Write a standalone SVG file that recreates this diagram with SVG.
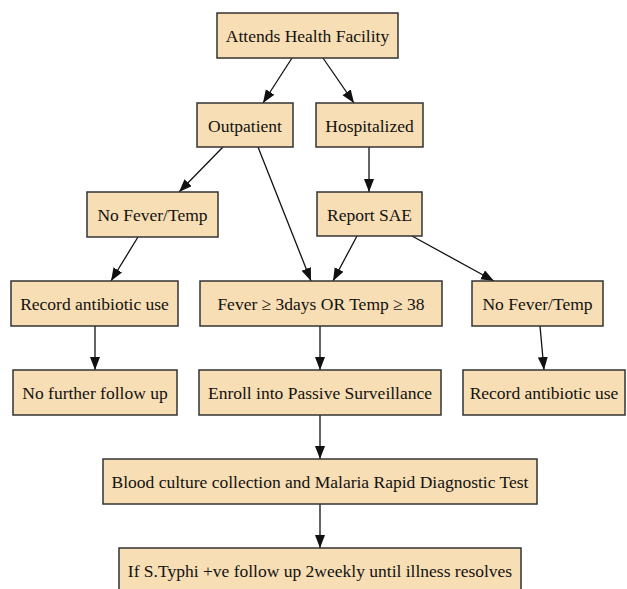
<svg xmlns="http://www.w3.org/2000/svg" width="627" height="589" viewBox="0 0 627 589">
<style>
.box{fill:#f8deb4;stroke:#333;stroke-width:1.5}
.t{font-family:"Liberation Serif","Times New Roman",serif;font-size:17.5px;fill:#111;text-anchor:middle}
.e{stroke:#111;stroke-width:1.3;fill:none}
</style>
<defs>
<marker id="ah" markerUnits="userSpaceOnUse" markerWidth="14" markerHeight="11" refX="13" refY="5" orient="auto">
<path d="M0,0 L13,5 L0,10 z" fill="#111"/>
</marker>
</defs>
<rect width="627" height="589" fill="#fff"/>
<g id="connectors">
<line class="e" x1="292" y1="58" x2="263" y2="103" marker-end="url(#ah)"/>
<line class="e" x1="323" y1="58" x2="354" y2="103" marker-end="url(#ah)"/>
<line class="e" x1="223" y1="147" x2="179" y2="192" marker-end="url(#ah)"/>
<line class="e" x1="258" y1="147" x2="311" y2="281" marker-end="url(#ah)"/>
<line class="e" x1="369" y1="147" x2="369" y2="192" marker-end="url(#ah)"/>
<line class="e" x1="138" y1="237" x2="111" y2="281" marker-end="url(#ah)"/>
<line class="e" x1="357" y1="236" x2="333" y2="281" marker-end="url(#ah)"/>
<line class="e" x1="412" y1="236" x2="494" y2="281" marker-end="url(#ah)"/>
<line class="e" x1="95" y1="326" x2="95" y2="370" marker-end="url(#ah)"/>
<line class="e" x1="320" y1="326" x2="320" y2="370" marker-end="url(#ah)"/>
<line class="e" x1="540" y1="326" x2="544" y2="370" marker-end="url(#ah)"/>
<line class="e" x1="320" y1="415" x2="320" y2="459" marker-end="url(#ah)"/>
<line class="e" x1="320" y1="504" x2="320" y2="548" marker-end="url(#ah)"/>
</g>
<g id="attends"><rect class="box" x="217" y="13" width="181" height="45"/><text class="t" x="307.5" y="41.5">Attends Health Facility</text></g>
<g id="outpatient"><rect class="box" x="197" y="103" width="96" height="44"/><text class="t" x="245" y="131.5">Outpatient</text></g>
<g id="hospitalized"><rect class="box" x="316" y="103" width="107" height="44"/><text class="t" x="369.5" y="131.5">Hospitalized</text></g>
<g id="nofever1"><rect class="box" x="87" y="192" width="131" height="45"/><text class="t" x="152.5" y="220.5">No Fever/Temp</text></g>
<g id="reportsae"><rect class="box" x="317" y="192" width="105" height="44"/><text class="t" x="369.5" y="220.5">Report SAE</text></g>
<g id="record1"><rect class="box" x="11" y="281" width="167" height="45"/><text class="t" x="94.5" y="309.5">Record antibiotic use</text></g>
<g id="fever"><rect class="box" x="200" y="281" width="242" height="45"/><text class="t" x="321" y="309.5">Fever ≥ 3days OR Temp ≥ 38</text></g>
<g id="nofever2"><rect class="box" x="472" y="281" width="131" height="45"/><text class="t" x="537.5" y="309.5">No Fever/Temp</text></g>
<g id="nofollow"><rect class="box" x="13" y="370" width="164" height="45"/><text class="t" x="95" y="398.5">No further follow up</text></g>
<g id="enroll"><rect class="box" x="199" y="370" width="242" height="45"/><text class="t" x="320" y="398.5">Enroll into Passive Surveillance</text></g>
<g id="record2"><rect class="box" x="463" y="370" width="162" height="45"/><text class="t" x="544" y="398.5">Record antibiotic use</text></g>
<g id="blood"><rect class="box" x="103" y="459" width="434" height="45"/><text class="t" x="320" y="487.5">Blood culture collection and Malaria Rapid Diagnostic Test</text></g>
<g id="typhi"><rect class="box" x="119" y="548" width="402" height="45"/><text class="t" x="320" y="576.5">If S.Typhi +ve follow up 2weekly until illness resolves</text></g>
</svg>
